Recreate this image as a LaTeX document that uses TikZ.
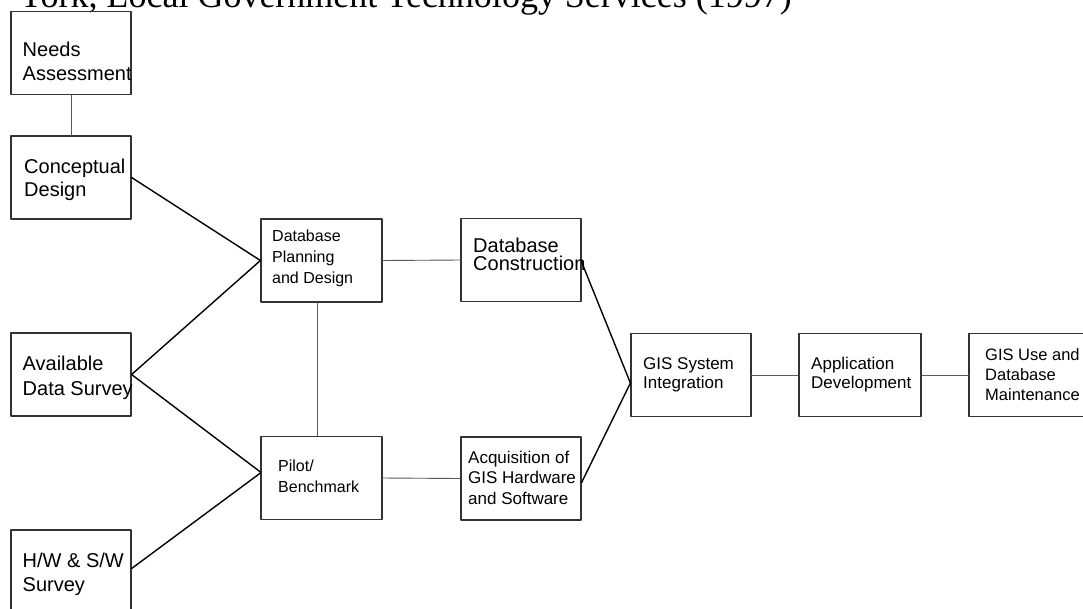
\documentclass[tikz,border=0pt]{standalone}
\usepackage{fontspec}
\setmainfont{Liberation Serif}
\setsansfont{Liberation Sans}
\tikzset{
  stage/.style={draw=black!80,line width=1.2pt,minimum width=120pt,minimum height=83pt,inner sep=0pt},
  words/.style={font=\sffamily\fontsize{20}{24}\selectfont,align=left,anchor=west,inner sep=0pt},
  small/.style={words,font=\sffamily\fontsize{16}{21}\selectfont},
  link/.style={line width=1.4pt,black},
  tie/.style={line width=0.9pt,black!65}
}
\begin{document}
\begin{tikzpicture}[x=1pt,y=-1pt,line join=round,line cap=round]
	\useasboundingbox (0,0) rectangle (1083,608);
	\clip (0,0) rectangle (1083,608);
	\def\lx{71} \def\mx{321.5} \def\rx{521}
	\node[font=\fontsize{36}{40}\selectfont,anchor=base west,inner sep=0pt] (heading) at (18,7) {York, Local Government Technology Services (1997)};
	% left column
	\node[stage] (needs) at (\lx,53) {};
	\node[stage] (concept) at (\lx,177.5) {};
	\node[stage] (avail) at (\lx,374.5) {};
	\node[stage] (hwsw) at (\lx,571.5) {};
	\node[words] (needs-t) at (22.5,61.5) {Needs\\Assessment};
	\node[words,font=\sffamily\fontsize{20}{23}\selectfont] (concept-t) at (24,179.5) {Conceptual\\Design};
	\node[words,font=\sffamily\fontsize{20}{25}\selectfont] (avail-t) at (22.5,377.5) {Available\\Data Survey};
	\node[words] (hwsw-t) at (22.5,574) {H/W \& S/W\\Survey};
	% middle
	\node[stage,minimum width=121pt] (dbplan) at (\mx,260.5) {};
	\node[stage,minimum width=121pt] (pilot) at (\mx,478) {};
	\node[small] (dbplan-t) at (272,258) {Database\\Planning\\and Design};
	\node[small] (pilot-t) at (278,476) {Pilot/\\Benchmark};
	\node[stage] (dbcons) at (\rx,260) {};
	\node[stage] (acq) at (\rx,478.5) {};
	\node[words,font=\sffamily\fontsize{20}{18}\selectfont] (dbcons-t) at (473,254) {Database\\Construction};
	\node[small,font=\sffamily\fontsize{17}{20.5}\selectfont] (acq-t) at (468,477.5) {Acquisition of\\GIS Hardware\\and Software};
	% right row
	\node[stage] (integ) at (691,375) {};
	\node[stage,minimum width=122pt] (appdev) at (860,375) {};
	\node[stage,minimum width=121pt] (use) at (1029.5,375) {};
	\node[small,font=\sffamily\fontsize{17}{19}\selectfont] (integ-t) at (643,374.5) {GIS System\\Integration};
	\node[small,font=\sffamily\fontsize{17}{19}\selectfont] (appdev-t) at (811,374.5) {Application\\Development};
	\node[small,font=\sffamily\fontsize{16.5}{20}\selectfont] (use-t) at (985,375) {GIS Use and\\Database\\Maintenance};
	% connectors
	\draw[tie] (needs.south) -- (concept.north);
	\draw[link] (concept.east) -- (dbplan.west);
	\draw[link] (avail.east) -- (dbplan.west);
	\draw[link] (avail.east) -- ([yshift=6pt]pilot.west);
	\draw[link] ([yshift=3pt]hwsw.east) -- ([yshift=5pt]pilot.west);
	\draw[tie] ([xshift=-4pt]dbplan.south) -- ([xshift=-4pt]pilot.north);
	\draw[tie] (dbplan.east) -- (dbcons.west);
	\draw[tie] (pilot.east) -- (acq.west);
	\draw[link] ([yshift=-2pt]dbcons.east) -- ([yshift=-8pt]integ.west);
	\draw[link] ([yshift=-4pt]acq.east) -- ([yshift=-8pt]integ.west);
	\draw[tie] (integ.east) -- (appdev.west);
	\draw[tie] (appdev.east) -- (use.west);
\end{tikzpicture}
\end{document}
